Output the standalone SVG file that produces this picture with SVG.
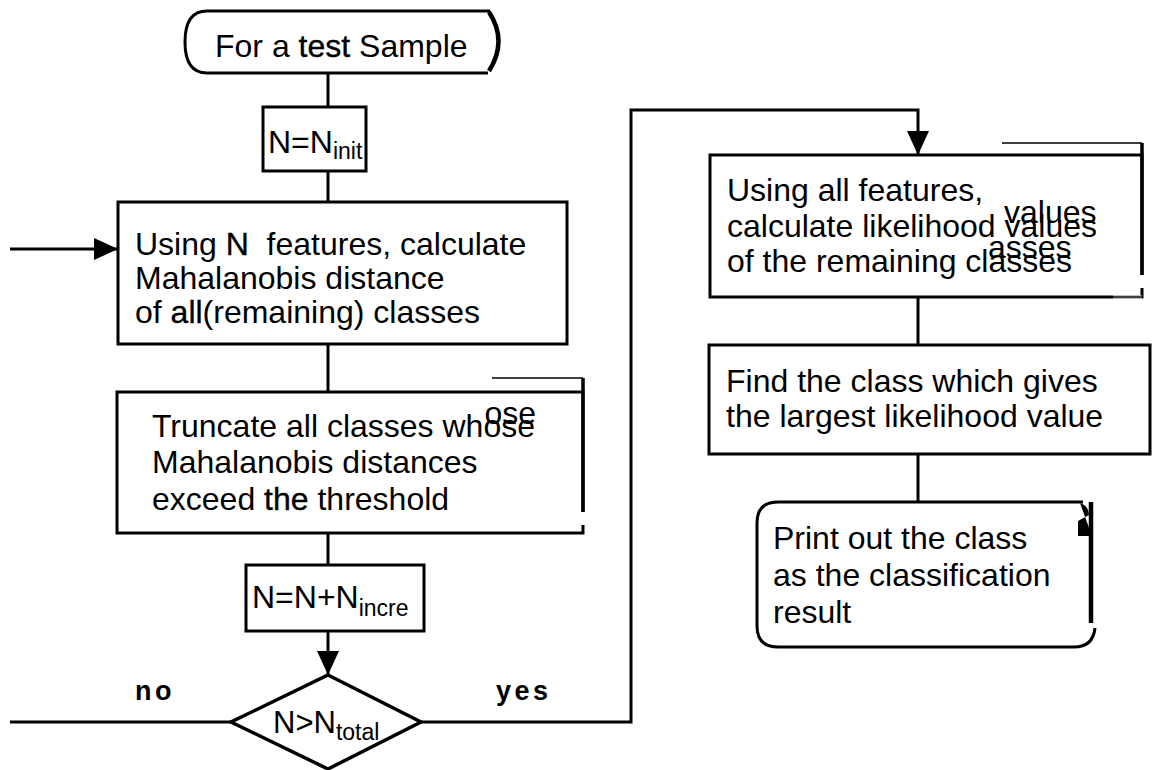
<svg xmlns="http://www.w3.org/2000/svg" width="1158" height="770" viewBox="0 0 1158 770">
  <style>
    .t { font-family: "Liberation Sans", Arial, Helvetica, sans-serif; font-size: 32px; fill: #000; }
    .sub { font-size: 23px; }
    .lbl { font-family: "Liberation Sans", Arial, sans-serif; font-size: 27px; font-weight: bold; letter-spacing: 3.5px; fill: #000; }
    .box { fill: #fff; stroke: #000; stroke-width: 3; }
    .edge { fill: none; stroke: #000; stroke-width: 3; }
    .thin { fill: none; stroke: #000; stroke-width: 1.5; }
    .heavy { stroke: #000; stroke-width: 0.35; }
  </style>
  <defs>
    <marker id="arrow" viewBox="0 0 24 22" refX="24" refY="11" markerWidth="24" markerHeight="22" markerUnits="userSpaceOnUse" orient="auto">
      <path d="M0,0 L24,11 L0,22 Z" fill="#000"/>
    </marker>
  </defs>

  <!-- connectors -->
  <g id="connectors">
    <line class="edge" x1="328" y1="73" x2="328" y2="107"/>
    <line class="edge" x1="328" y1="171" x2="328" y2="202"/>
    <line class="edge" x1="328" y1="344" x2="328" y2="392"/>
    <line class="edge" x1="328" y1="533" x2="328" y2="565"/>
    <line class="edge" x1="328" y1="631" x2="328" y2="675" marker-end="url(#arrow)"/>
    <!-- loop back ("no") -->
    <line class="edge" x1="10" y1="722" x2="231" y2="722"/>
    <line class="edge" x1="10" y1="249" x2="118" y2="249" marker-end="url(#arrow)"/>
    <!-- "yes" branch -->
    <polyline class="edge" points="421,722 631,722 631,110 918,110 918,155" marker-end="url(#arrow)"/>
    <line class="edge" x1="918" y1="297" x2="918" y2="345"/>
    <line class="edge" x1="918" y1="454" x2="918" y2="502"/>
    <text class="lbl" x="135" y="700">no</text>
    <text class="lbl" x="496" y="700">yes</text>
  </g>

  <!-- start terminal -->
  <g id="start">
    <path d="M207,11 H490 M207,11 Q185,11 185,42 Q185,73 207,73 H488" fill="#fff" stroke="#000" stroke-width="3"/>
    <path d="M489,12 Q508,41 489,71" fill="none" stroke="#000" stroke-width="4.5"/>
    <text class="t" x="215" y="57">For a <tspan class="heavy">test</tspan> Sample</text>
  </g>

  <!-- N = N_init -->
  <g id="init">
    <rect class="box" x="263" y="107" width="103" height="64"/>
    <text class="t" x="268" y="153">N=N<tspan class="sub" dy="6">init</tspan></text>
  </g>

  <!-- Mahalanobis distance step -->
  <g id="distance">
    <rect class="box" x="118" y="202" width="449" height="142"/>
    <text class="t" x="135" y="255" xml:space="preserve">Using <tspan class="heavy">N</tspan>  features, calculate</text>
    <text class="t" x="135" y="289">Mahalanobis distance</text>
    <text class="t" x="135" y="323">of <tspan class="heavy">all</tspan>(remaining) classes</text>
  </g>

  <!-- truncation step -->
  <g id="truncate">
    <rect class="box" x="117" y="392" width="466" height="141"/>
    <line class="thin" x1="492" y1="378" x2="583" y2="378"/>
    <line x1="583" y1="378" x2="583" y2="512" stroke="#000" stroke-width="3.5"/>
    <line x1="583" y1="512" x2="583" y2="525" stroke="#fff" stroke-width="4"/>
    <text class="t" x="152" y="437">Truncate all classes whose</text>
    <text class="t" x="484.5" y="424">ose</text>
    <text class="t" x="152" y="473">Mahalanobis distances</text>
    <text class="t" x="152" y="510">exceed <tspan class="heavy">the</tspan> threshold</text>
  </g>

  <!-- N = N + N_incre -->
  <g id="increment">
    <rect class="box" x="246" y="565" width="178" height="66"/>
    <text class="t" x="252" y="608">N=N+N<tspan class="sub" dy="8">incre</tspan></text>
  </g>

  <!-- decision -->
  <g id="decision">
    <polygon points="328,675 421,722 328,769 231,722" fill="#fff" stroke="#000" stroke-width="3.5"/>
    <text class="t" x="273" y="733" style="font-size:31px">N&gt;N<tspan class="sub" dy="7">total</tspan></text>
  </g>

  <!-- likelihood step -->
  <g id="likelihood">
    <rect class="box" x="710" y="155" width="432" height="142"/>
    <line class="thin" x1="1002" y1="143" x2="1142" y2="143"/>
    <line x1="1142" y1="143" x2="1142" y2="275" stroke="#000" stroke-width="3.5"/>
    <line x1="1142" y1="275" x2="1142" y2="288" stroke="#fff" stroke-width="4"/>
    <line x1="1113" y1="297" x2="1142" y2="297" stroke="#fff" stroke-width="3"/>
    <line class="thin" x1="1113" y1="297" x2="1142" y2="297"/>
    <text class="t" x="727" y="201">Using all features,</text>
    <text class="t" x="727" y="237">calculate likelihood values</text>
    <text class="t" x="1004" y="223">values</text>
    <text class="t" x="727" y="272">of the remaining classes</text>
    <text class="t" x="988" y="258">asses</text>
  </g>

  <!-- selection step -->
  <g id="select">
    <rect class="box" x="709" y="345" width="441" height="109"/>
    <text class="t" x="726" y="392">Find the class which gives</text>
    <text class="t" x="726" y="427">the largest likelihood value</text>
  </g>

  <!-- end terminal -->
  <g id="end">
    <path d="M1083,502 H778 Q757,502 757,523 V626 Q757,647 778,647 H1074 Q1093,647 1095,628" fill="#fff" stroke="#000" stroke-width="3"/>
    <path d="M1091,502 V623" fill="none" stroke="#000" stroke-width="4.5"/>
    <path d="M1080,503 Q1089,506 1089,515 L1078,521 L1078,536 L1092,536 Z" fill="#000"/>
    <text class="t" x="773" y="549">Print out the class</text>
    <text class="t" x="773" y="586">as the classification</text>
    <text class="t" x="773" y="623">result</text>
  </g>
</svg>
